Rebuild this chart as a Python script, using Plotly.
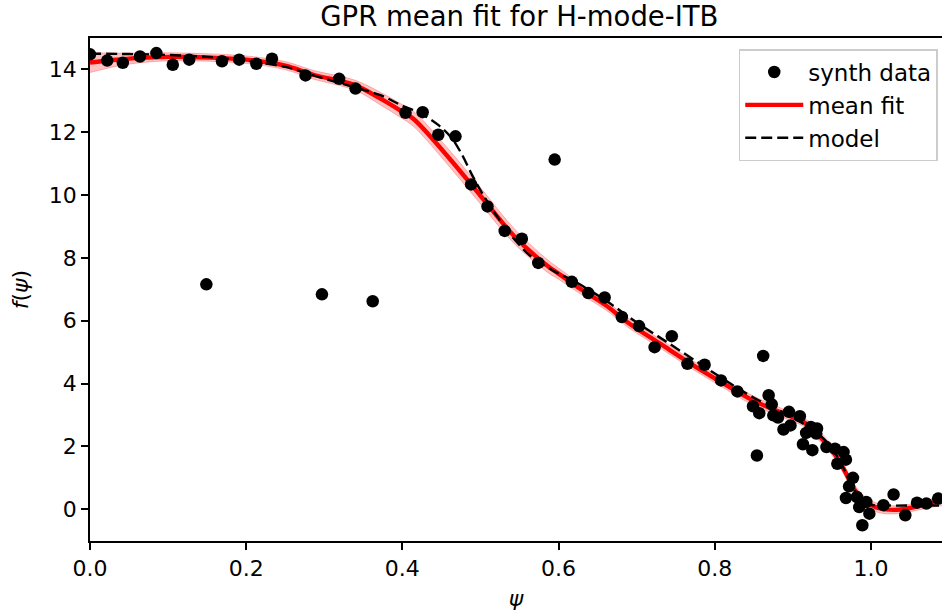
import plotly.graph_objects as go

# ---- data ----
data_psi = [0.000, 0.022, 0.042, 0.064, 0.085, 0.106, 0.127, 0.149, 0.169, 0.191,
            0.213, 0.233, 0.276, 0.297, 0.319, 0.340, 0.362, 0.404, 0.426, 0.446,
            0.468, 0.488, 0.509, 0.531, 0.553, 0.574, 0.595, 0.617, 0.638, 0.659,
            0.681, 0.703, 0.723, 0.745, 0.765, 0.787, 0.808, 0.829,
            0.849, 0.857, 0.854, 0.862, 0.869, 0.873, 0.875, 0.881, 0.888, 0.895,
            0.897, 0.909, 0.917, 0.913, 0.925, 0.923, 0.931, 0.930, 0.943, 0.954,
            0.965, 0.957, 0.968, 0.977, 0.972, 0.968, 0.982, 0.985, 0.994, 0.998,
            0.989, 1.016, 1.029, 1.044, 1.059, 1.071, 1.086]
data_f = [14.48, 14.28, 14.21, 14.41, 14.52, 14.15, 14.31, 7.16, 14.26, 14.31,
          14.18, 14.34, 13.81, 6.84, 13.70, 13.39, 6.62, 12.62, 12.64, 11.92,
          11.87, 10.34, 9.64, 8.86, 8.61, 7.84, 11.13, 7.24, 6.88, 6.74,
          6.12, 5.83, 5.16, 5.51, 4.63, 4.60, 4.10, 3.75,
          3.28, 3.06, 1.71, 4.88, 3.63, 3.34, 2.99, 2.92, 2.54, 3.10,
          2.67, 2.96, 2.43, 2.07, 1.88, 2.62, 2.57, 2.41, 1.98, 1.93,
          1.82, 1.45, 1.58, 1.00, 0.73, 0.36, 0.39, 0.07, 0.23, -0.14,
          -0.51, 0.13, 0.47, -0.19, 0.21, 0.18, 0.34]

fit_psi = [0.00, 0.03, 0.06, 0.10, 0.15, 0.20, 0.25, 0.286, 0.339, 0.372,
           0.397, 0.414, 0.457, 0.50, 0.543, 0.586, 0.60, 0.63, 0.66, 0.69,
           0.73, 0.77, 0.81, 0.85, 0.89, 0.915, 0.935, 0.953, 0.966, 0.979,
           0.991, 1.009, 1.03, 1.05, 1.073, 1.092]
fit_mean = [14.22, 14.30, 14.36, 14.40, 14.38, 14.31, 14.12, 13.83, 13.50, 13.07,
            12.70, 12.43, 11.26, 9.98, 8.70, 7.74, 7.50, 6.98, 6.50, 5.92,
            5.27, 4.62, 4.02, 3.45, 3.03, 2.76, 2.30, 1.78, 1.24, 0.62,
            0.28, 0.04, -0.02, 0.04, 0.17, 0.28]
fit_sigma = [0.32, 0.22, 0.16, 0.13, 0.12, 0.12, 0.13, 0.14, 0.16, 0.20,
             0.22, 0.24, 0.26, 0.26, 0.24, 0.20, 0.18, 0.16, 0.15, 0.15,
             0.14, 0.14, 0.14, 0.15, 0.14, 0.14, 0.15, 0.16, 0.16, 0.16,
             0.15, 0.14, 0.13, 0.12, 0.13, 0.16]

model_psi = [0.00, 0.05, 0.10, 0.15, 0.20, 0.25, 0.286, 0.34, 0.372, 0.397,
             0.423, 0.445, 0.462, 0.475, 0.488, 0.50, 0.515, 0.530, 0.545, 0.564,
             0.594, 0.62, 0.66, 0.70, 0.74, 0.78, 0.82, 0.85, 0.89, 0.915,
             0.935, 0.95, 0.962, 0.972, 0.982, 0.992, 1.00, 1.02, 1.06, 1.10]
model_f = [14.50, 14.49, 14.46, 14.40, 14.27, 14.08, 13.81, 13.42, 13.18, 12.88,
           12.60, 12.25, 11.85, 11.35, 10.70, 10.15, 9.55, 9.02, 8.55, 8.06,
           7.58, 7.26, 6.65, 5.95, 5.30, 4.65, 4.00, 3.55, 3.05, 2.70,
           2.35, 1.95, 1.45, 0.95, 0.50, 0.22, 0.14, 0.12, 0.12, 0.12]

x_ticks = [0.0, 0.2, 0.4, 0.6, 0.8, 1.0]
x_tick_labels = ["0.0", "0.2", "0.4", "0.6", "0.8", "1.0"]
y_ticks = [0, 2, 4, 6, 8, 10, 12, 14]
y_tick_labels = ["0", "2", "4", "6", "8", "10", "12", "14"]

FONT = "DejaVu Sans"
band_lo = [m - s for m, s in zip(fit_mean, fit_sigma)]
band_hi = [m + s for m, s in zip(fit_mean, fit_sigma)]

fig = go.Figure()
fig.add_trace(go.Scatter(x=fit_psi, y=band_lo, mode="lines", line=dict(color="rgba(255,0,0,0.24)", width=1, shape="spline"),
                         showlegend=False, hoverinfo="skip"))
fig.add_trace(go.Scatter(x=fit_psi, y=band_hi, mode="lines", line=dict(color="rgba(255,0,0,0.24)", width=1, shape="spline"),
                         fill="tonexty", fillcolor="rgba(255,0,0,0.24)", showlegend=False, hoverinfo="skip"))
fig.add_trace(go.Scatter(x=fit_psi, y=fit_mean, mode="lines", name="mean fit", legendrank=2,
                         line=dict(color="red", width=4.4, shape="spline")))
fig.add_trace(go.Scatter(x=data_psi, y=data_f, mode="markers", name="synth data", legendrank=1,
                         marker=dict(color="black", size=12.5)))
fig.add_trace(go.Scatter(x=model_psi, y=model_f, mode="lines", name="model", legendrank=3,
                         line=dict(color="black", width=2.4, dash="11px,5px", shape="spline")))

axis_common = dict(showline=True, linecolor="black", linewidth=1.8, ticks="outside", ticklen=7,
                   tickwidth=1.8, tickcolor="black", showgrid=False, zeroline=False,
                   tickfont=dict(family=FONT, size=22, color="black"))

fig.update_layout(
    width=942, height=613,
    margin=dict(l=90, r=0, t=38, b=72, autoexpand=False),
    paper_bgcolor="white", plot_bgcolor="white",
    font=dict(family=FONT, size=22, color="black"),
    title=dict(text="GPR mean fit for H-mode-ITB", x=0.504, xref="paper", xanchor="center", y=0.974, yanchor="middle",
               font=dict(family=FONT, size=27.5, color="black")),
    xaxis=dict(range=[0, 1.091], tickvals=x_ticks, ticktext=x_tick_labels, mirror=True,
               title=dict(text="<i>ψ</i>", font=dict(family=FONT, size=22), standoff=10), **axis_common),
    yaxis=dict(range=[-1.01, 15.0], tickvals=y_ticks, ticktext=y_tick_labels, mirror=False,
               title=dict(text="<i>f</i>(<i>ψ</i>)", font=dict(family=FONT, size=22), standoff=14), **axis_common),
    legend=dict(x=0.995, xanchor="right", y=0.978, yanchor="top", bgcolor="rgba(255,255,255,0.85)",
                bordercolor="#cccccc", borderwidth=1.5, font=dict(family=FONT, size=23, color="black"),
                itemwidth=58, tracegroupgap=0, traceorder="normal"),
    showlegend=True,
)

fig.write_html("out.html", config={"displayModeBar": False},
               post_script="document.body.style.margin='0';document.body.style.padding='0';document.body.style.overflow='hidden';")
